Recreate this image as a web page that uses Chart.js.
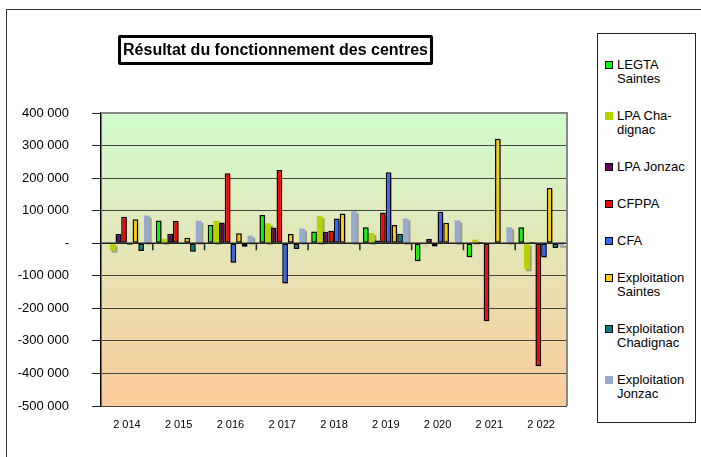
<!DOCTYPE html>
<html>
<head>
<meta charset="utf-8">
<script src="https://cdn.jsdelivr.net/npm/chart.js@4/dist/chart.umd.min.js"></script>
<style>
  html, body { margin: 0; padding: 0; background: #fff; }
  #wrap { position: relative; width: 701px; height: 457px; overflow: hidden; font-family: "Liberation Sans", Arial, sans-serif; }
  #frame { position: absolute; left: 6px; top: 9px; width: 800px; height: 600px; border-left: 1.5px solid #333; border-top: 1.5px solid #333; }
  #title { position: absolute; left: 118px; top: 35px; width: 309px; height: 24px; border: 3px solid #000; border-radius: 2px;
           font-weight: bold; font-size: 16px; line-height: 24px; text-align: center; color: #000; }
  #legend { position: absolute; left: 597px; top: 33px; width: 99px; height: 390px; border: 1px solid #222; background: #fff; box-sizing: border-box; }
  .item { position: relative; margin-left: 19px; margin-bottom: 23px; font-size: 13px; line-height: 14px; white-space: pre-line; color: #000; }
  .item:first-child { margin-top: 24px; }
  .mark { position: absolute; left: -12px; top: 3px; width: 8px; height: 8px; box-sizing: border-box; }
  canvas { position: absolute; left: 0; top: 0; }
</style>
</head>
<body>
<div id="wrap">
  <div id="frame"></div>
  <canvas id="chart" width="701" height="457"></canvas>
  <div id="title">Résultat du fonctionnement des centres</div>
  <div id="legend"></div>
</div>
<script>
const years = [2014, 2015, 2016, 2017, 2018, 2019, 2020, 2021, 2022];
const seriesNames = ['LEGTA\nSaintes', 'LPA Cha-\ndignac', 'LPA Jonzac', 'CFPPA', 'CFA',
  'Exploitation\nSaintes', 'Exploitation\nChadignac', 'Exploitation\nJonzac'];
const seriesColors = ['#00ff00', '#b5d300', '#660066', '#ff0000', '#3366ff', '#ffcc00', '#008080', '#99aad0'];
const seriesBorders = [true, false, true, true, true, true, true, false];

const legtaSaintes = [2000, 70000, 56000, 87000, 36000, 49000, -55000, -43000, 49000];
const lpaChadignac = [-23000, 13000, 69000, 61000, 83000, 31000, -3000, 11000, -80000];
const lpaJonzac = [28000, 29000, 64000, 48000, 35000, 8000, 13000, 4000, 4000];
const cfppa = [81000, 68000, 215000, 225000, 38000, 94000, -10000, -240000, -378000];
const cfa = [-5000, 2000, -60000, -124000, 76000, 218000, 97000, -3000, -44000];
const exploitSaintes = [74000, 17000, 31000, 28000, 91000, 56000, 63000, 321000, 170000];
const exploitChadignac = [-24000, -26000, -11000, -18000, 2000, 29000, 1000, -3000, -15000];
const exploitJonzac = [85000, 69000, 23000, 45000, 98000, 76000, 70000, 49000, -8000];

const seriesValues = [legtaSaintes, lpaChadignac, lpaJonzac, cfppa, cfa, exploitSaintes, exploitChadignac, exploitJonzac];
const yTicks = [400000, 300000, 200000, 100000, 0, -100000, -200000, -300000, -400000, -500000];

function fmt(v) {
  if (v === 0) return '-';
  const s = String(Math.abs(v)).replace(/\B(?=(\d{3})+(?!\d))/g, ' ');
  return (v < 0 ? '-' : '') + s;
}

const plotBackground = {
  id: 'plotBackground',
  beforeDraw(chart) {
    const { ctx, chartArea: a } = chart;
    const g = ctx.createLinearGradient(0, a.top, 0, a.bottom);
    g.addColorStop(0, '#d0fccf');
    g.addColorStop(1, '#fccb9a');
    ctx.save();
    ctx.fillStyle = g;
    ctx.fillRect(a.left, a.top, a.right - a.left, a.bottom - a.top);
    ctx.restore();
  },
  beforeDatasetsDraw(chart) {
    const ctx = chart.ctx;
    ctx.save();
    ctx.shadowColor = 'rgba(0,0,0,0.3)';
    ctx.shadowOffsetX = 2;
    ctx.shadowOffsetY = 2;
    ctx.shadowBlur = 0;
  },
  afterDatasetsDraw(chart) {
    const { ctx, chartArea: a, scales } = chart;
    ctx.restore();
    const y0 = scales.y.getPixelForValue(0);
    ctx.save();
    ctx.strokeStyle = '#222';
    ctx.lineWidth = 1.5;
    ctx.beginPath();
    ctx.moveTo(a.left, y0);
    ctx.lineTo(a.right, y0);
    for (let i = 1; i < years.length; i++) {
      const x = (scales.x.getPixelForValue(i - 1) + scales.x.getPixelForValue(i)) / 2;
      ctx.moveTo(x, y0);
      ctx.lineTo(x, y0 + 7);
    }
    ctx.stroke();
    ctx.strokeStyle = '#888';
    ctx.lineWidth = 2;
    ctx.beginPath();
    ctx.moveTo(a.left, a.top);
    ctx.lineTo(a.right, a.top);
    ctx.lineTo(a.right, a.bottom);
    ctx.stroke();
    ctx.restore();
  }
};

const ctx = document.getElementById('chart').getContext('2d');
const chart = new Chart(ctx, {
  type: 'bar',
  data: {
    labels: years,
    datasets: seriesNames.map((name, i) => ({
      label: name.replace('-\n', '').replace('\n', ' '),
      data: seriesValues[i],
      backgroundColor: seriesColors[i],
      borderColor: '#000',
      borderWidth: seriesBorders[i] ? 1.5 : 0,
      borderSkipped: false,
      categoryPercentage: 0.88,
      barPercentage: 1.0
    }))
  },
  options: {
    responsive: false,
    animation: false,
    devicePixelRatio: 1,
    layout: { padding: { left: 0, top: 113, right: 134, bottom: 0 } },
    plugins: { legend: { display: false }, tooltip: { enabled: false } },
    scales: {
      x: {
        grid: { display: false, drawTicks: false },
        border: { display: false },
        ticks: {
          padding: 12,
          color: '#000',
          font: { family: '"Liberation Sans", Arial', size: 11 },
          callback: function (v, i) { return fmt(years[i]); }
        },
        afterFit(scale) { scale.height = 51; }
      },
      y: {
        min: -500000,
        max: 400000,
        afterBuildTicks(scale) { scale.ticks = yTicks.map(v => ({ value: v })); },
        grid: { color: '#444', lineWidth: 1, tickLength: 9, tickColor: '#222' },
        border: { color: '#000', width: 1.5 },
        ticks: {
          padding: 23,
          color: '#000',
          font: { family: '"Liberation Sans", Arial', size: 13 },
          callback: v => fmt(v)
        },
        afterFit(scale) { scale.width = 101; }
      }
    }
  },
  plugins: [plotBackground]
});

const legend = document.getElementById('legend');
seriesNames.forEach((name, i) => {
  const item = document.createElement('div');
  item.className = 'item';
  const mark = document.createElement('span');
  mark.className = 'mark';
  mark.style.background = seriesColors[i];
  if (seriesBorders[i]) mark.style.border = '1px solid #000';
  item.appendChild(mark);
  item.appendChild(document.createTextNode(name));
  legend.appendChild(item);
});
</script>
</body>
</html>
